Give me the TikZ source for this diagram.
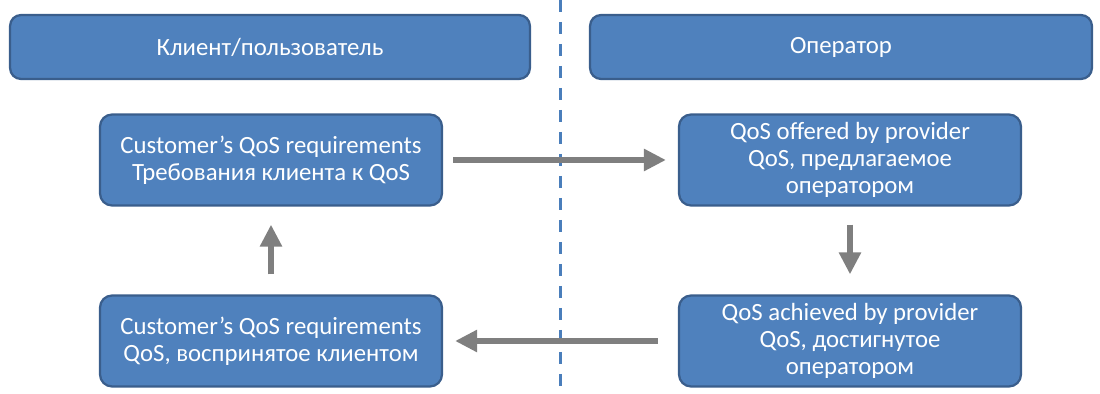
\documentclass[tikz,border=0pt]{standalone}
\usepackage{fontspec}
\setmainfont{Carlito}
\usetikzlibrary{arrows.meta}
\definecolor{boxfill}{HTML}{4F81BD}
\definecolor{boxedge}{HTML}{3A5E8C}
\definecolor{arrgray}{HTML}{7F7F7F}
\definecolor{dashblue}{HTML}{4A7EBB}
\tikzset{
  hdr/.style={draw=boxedge, fill=boxfill, line width=0.045cm, rounded corners=0.22cm,
    minimum width=10.4cm, minimum height=1.28cm, text=white, font=\fontsize{14.1}{16}\selectfont, inner sep=0pt},
  qbox/.style={draw=boxedge, fill=boxfill, line width=0.045cm, rounded corners=0.24cm,
    minimum width=6.84cm, minimum height=1.82cm, text=white, align=center,
    font=\fontsize{14.1}{15.4}\selectfont, inner sep=0pt},
  flow/.style={draw=arrgray, line width=0.12cm, -{Triangle[length=0.44cm, width=0.42cm]}},
  divider/.style={draw=dashblue, line width=0.06cm, dash pattern=on 0.24cm off 0.2cm}
}
\begin{document}
\begin{tikzpicture}[x=0.02cm, y=-0.02cm]
\useasboundingbox (0,0) rectangle (1100,394);
\coordinate (dtop) at (560,0);
\coordinate (dbot) at (560,394);
\draw[divider] (dtop) -- (dbot);
\node[hdr] (client) at (270,47) {Клиент/пользователь};
\node[hdr, minimum width=10.04cm] (oper) at (841,47) {Оператор};
\node[qbox] (req) at (271,160) {Customer’s QoS requirements\\Требования клиента к QoS};
\node[qbox] (offer) at (850,160) {QoS offered by provider\\QoS, предлагаемое\\оператором};
\node[qbox] (ach) at (850,341) {QoS achieved by provider\\QoS, достигнутое\\оператором};
\node[qbox] (perc) at (271,341) {Customer’s QoS requirements\\QoS, воспринятое клиентом};
\draw[flow] ([xshift=0.2cm]req.east) -- ([xshift=-0.24cm]offer.west);
\draw[flow] ([yshift=-0.36cm]offer.south) -- ([yshift=0.4cm]ach.north);
\draw[flow] ([xshift=-0.4cm]ach.west) -- ([xshift=0.24cm]perc.west -| perc.east);
\draw[flow] ([yshift=0.4cm]perc.north) -- ([yshift=-0.36cm]req.south);
\end{tikzpicture}
\end{document}
